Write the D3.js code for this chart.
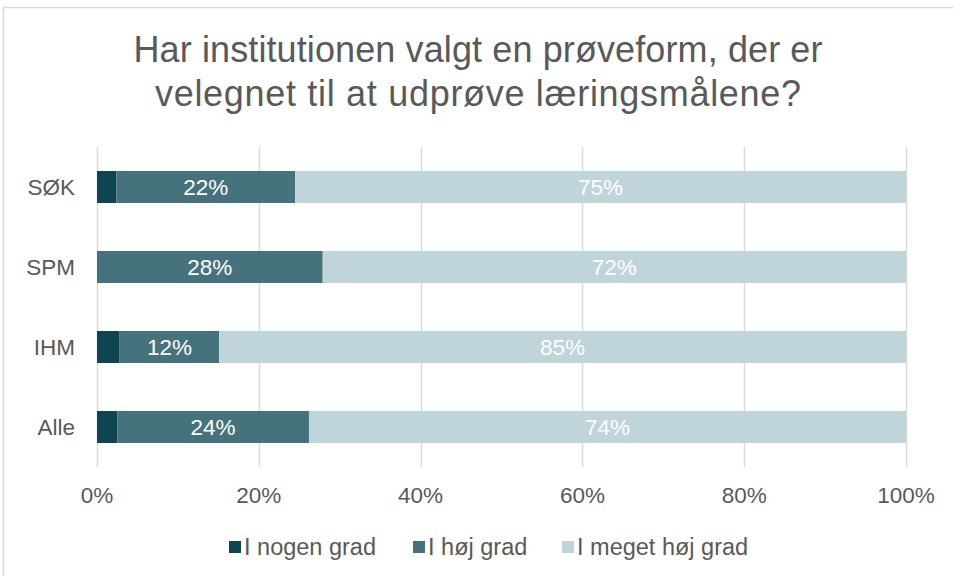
<!DOCTYPE html>
<html>
<head>
<meta charset="utf-8">
<script src="https://cdn.jsdelivr.net/npm/d3@7"></script>
<style>
  body { margin: 0; background: #fff; }
  svg { display: block; font-family: "Liberation Sans", Arial, sans-serif; }
</style>
</head>
<body>
<script>
var categories = ["SØK", "SPM", "IHM", "Alle"];
var seriesNames = ["I nogen grad", "I høj grad", "I meget høj grad"];
var nogen = [2.4, 0, 2.8, 2.5];
var hoej = [22.1, 27.9, 12.3, 23.7];
var megetHoej = [75.5, 72.1, 84.9, 73.8];
var labelsHoej = ["22%", "28%", "12%", "24%"];
var labelsMeget = ["75%", "72%", "85%", "74%"];
var ticks = [0, 20, 40, 60, 80, 100];
var colors = ["#0e4551", "#45727c", "#bfd5da"];

var W = 953, H = 576;
var svg = d3.select("body").append("svg").attr("width", W).attr("height", H);

// chart frame, only top and left edges are inside the picture
svg.append("rect")
  .attr("x", 3.5).attr("y", 7.5)
  .attr("width", W + 10).attr("height", H + 10)
  .attr("fill", "#fff").attr("stroke", "#d9d9d9").attr("stroke-width", 1.5);

// title
var titleLines = [
  { text: "Har institutionen valgt en prøveform, der er", y: 62, w: 689 },
  { text: "velegnet til at udprøve læringsmålene?", y: 106, w: 646 }
];
svg.append("g").selectAll("text")
  .data(titleLines).enter().append("text")
  .attr("x", 478)
  .attr("y", function(d) { return d.y; })
  .attr("text-anchor", "middle")
  .attr("fill", "#595959")
  .attr("textLength", function(d) { return d.w; })
  .attr("lengthAdjust", "spacing")
  .style("font-size", "36px")
  .text(function(d) { return d.text; });

var x = d3.scaleLinear().domain([0, 100]).range([97, 906]);
var y = d3.scaleBand().domain(categories).range([147, 467]).paddingInner(0.6).paddingOuter(0.3);

// gridlines
svg.append("g").selectAll("line")
  .data(ticks).enter().append("line")
  .attr("x1", function(d) { return Math.round(x(d)) + 0.5; })
  .attr("x2", function(d) { return Math.round(x(d)) + 0.5; })
  .attr("y1", 147).attr("y2", 467)
  .attr("stroke", "#d9d9d9").attr("stroke-width", 1.5);

svg.append("g").selectAll("text")
  .data(ticks).enter().append("text")
  .attr("x", function(d) { return x(d); })
  .attr("y", 503)
  .attr("text-anchor", "middle")
  .attr("fill", "#595959")
  .style("font-size", "22.5px")
  .text(function(d) { return d + "%"; });

// category labels
svg.append("g").selectAll("text")
  .data(categories).enter().append("text")
  .attr("x", 75)
  .attr("y", function(d) { return y(d) + y.bandwidth() / 2 + 8; })
  .attr("text-anchor", "end")
  .attr("fill", "#595959")
  .style("font-size", "22.5px")
  .text(function(d) { return d; });

var rows = categories.map(function(c, i) {
  return { cat: c, vals: [nogen[i], hoej[i], megetHoej[i]], labels: [null, labelsHoej[i], labelsMeget[i]] };
});

rows.forEach(function(r) {
  var start = 0;
  r.vals.forEach(function(v, j) {
    if (v > 0) {
      svg.append("rect")
        .attr("x", x(start))
        .attr("y", y(r.cat))
        .attr("width", x(start + v) - x(start))
        .attr("height", y.bandwidth())
        .attr("fill", colors[j]);
      if (r.labels[j]) {
        svg.append("text")
          .attr("x", x(start + v / 2))
          .attr("y", y(r.cat) + y.bandwidth() / 2 + 8)
          .attr("text-anchor", "middle")
          .attr("fill", "#fff")
          .style("font-size", "22.5px")
          .text(r.labels[j]);
      }
    }
    start += v;
  });
});

// legend
var legendX = [229, 413, 562];
var lg = svg.append("g").selectAll("g")
  .data(seriesNames).enter().append("g")
  .attr("transform", function(d, i) { return "translate(" + legendX[i] + ",547)"; });
lg.append("rect")
  .attr("x", 0).attr("y", -6).attr("width", 12).attr("height", 12)
  .attr("fill", function(d, i) { return colors[i]; });
lg.append("text")
  .attr("x", 15).attr("y", 8)
  .attr("fill", "#595959")
  .style("font-size", "23.5px")
  .text(function(d) { return d; });
</script>
</body>
</html>
